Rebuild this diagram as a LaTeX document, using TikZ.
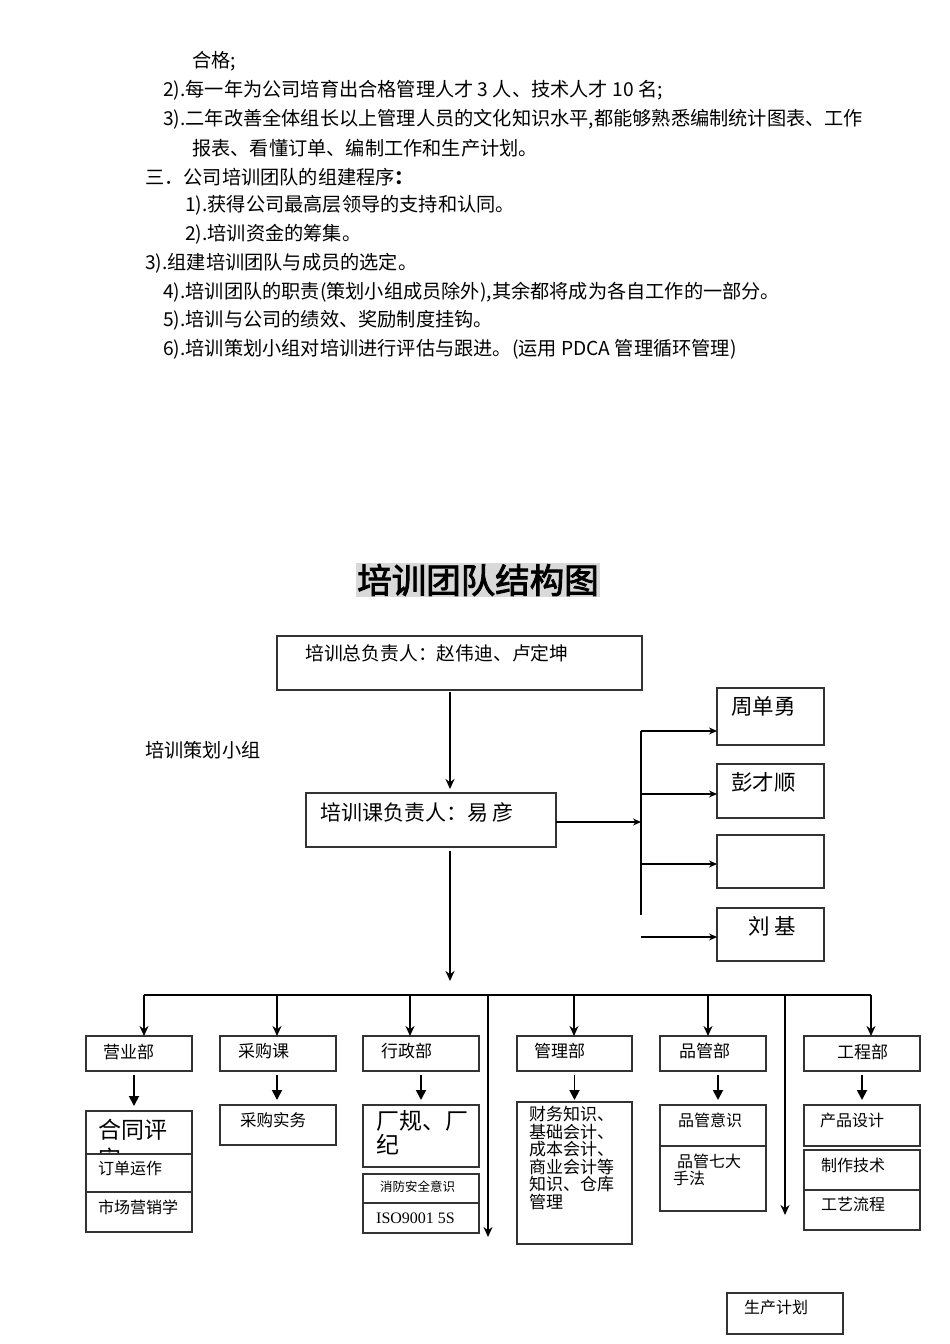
\documentclass[tikz,border=0pt]{standalone}
\usepackage{fontspec}
\setmainfont{Noto Sans CJK SC}
\newfontfamily\titlefont[FakeBold=2.5]{Noto Sans CJK SC}
\newfontfamily\tnr{Liberation Serif}
\usetikzlibrary{arrows.meta}

\tikzset{
  para/.style={inner sep=0pt, anchor=west, font=\fontsize{19.2}{29}\selectfont},
  txt/.style={inner sep=0pt, anchor=west},
  box/.style={draw=black!80, line width=1.4pt, inner sep=0pt, outer sep=0pt},
  arr/.style={line width=2pt, -{Stealth[length=10pt, width=9pt]}},
  harr/.style={line width=1.5pt, -{Stealth[length=8pt, width=7pt]}},
  tri/.style={line width=1.8pt, -{Triangle[length=10pt, width=10pt]}},
}

\begin{document}
\begin{tikzpicture}[x=1pt, y=-1pt]
            \useasboundingbox (0,0) rectangle (950,1344);

            % text above the chart
            \node[para] (l1) at (192, 61) {合格;};
            \node[para] (l2) at (163, 90) {2).每一年为公司培育出合格管理人才 3 人、技术人才 10 名;};
            \node[para] (l3) at (163, 119) {3).二年改善全体组长以上管理人员的文化知识水平,都能够熟悉编制统计图表、工作};
            \node[para] (l4) at (192, 148) {报表、看懂订单、编制工作和生产计划。};
            \node[para] (l5) at (145, 177) {三．公司培训团队的组建程序\textbf{：}};
            \node[para] (l6) at (185, 205) {1).获得公司最高层领导的支持和认同。};
            \node[para] (l7) at (185, 234) {2).培训资金的筹集。};
            \node[para] (l8) at (145, 263) {3).组建培训团队与成员的选定。};
            \node[para] (l9) at (163, 292) {4).培训团队的职责(策划小组成员除外),其余都将成为各自工作的一部分。};
            \node[para] (l10) at (163, 320) {5).培训与公司的绩效、奖励制度挂钩。};
            \node[para] (l11) at (163, 349) {6).培训策划小组对培训进行评估与跟进。(运用 PDCA 管理循环管理)};

            % title
            \node[fill=black!15, inner sep=1pt, font=\titlefont\fontsize{34.5}{35}\selectfont] (title) at (478, 580) {培训团队结构图};

            \node[para] (group) at (145, 750) {培训策划小组};

            % heads
            \node[box, minimum width=365pt, minimum height=54pt] (chief) at (459.5, 663) {};
            \node[txt, font=\fontsize{18.8}{20}\selectfont] (chief-t) at (305, 653) {培训总负责人：赵伟迪、卢定坤};
            \node[box, minimum width=250pt, minimum height=54pt] (mgr) at (431, 820) {};
            \node[txt, font=\fontsize{21}{22}\selectfont] (mgr-t) at (320, 812) {培训课负责人：易 彦};

            % planning group members
            \node[box, minimum width=107pt, minimum height=57pt] (zhou) at (770.5, 716.5) {};
            \node[txt, font=\fontsize{21.5}{22}\selectfont] (zhou-t) at (731, 706) {周单勇};
            \node[box, minimum width=107pt, minimum height=54pt] (peng) at (770.5, 791) {};
            \node[txt, font=\fontsize{21.5}{22}\selectfont] (peng-t) at (731, 782) {彭才顺};
            \node[box, minimum width=107pt, minimum height=53pt] (blank) at (770.5, 861.5) {};
            \node[box, minimum width=107pt, minimum height=53pt] (liu) at (770.5, 934.5) {};
            \node[txt, font=\fontsize{21.5}{22}\selectfont] (liu-t) at (748, 926) {刘 基};

            \coordinate (jm) at (641, 822);
            \coordinate (vt) at (641, 731);
            \coordinate (j2) at (641, 794);
            \coordinate (j3) at (641, 864);
            \coordinate (vb) at (641, 915);
            \coordinate (j4) at (641, 937);

            \draw[arr, shorten <=2pt, shorten >=4pt] ([xshift=-9.5pt]chief.south) -- ([xshift=-9.5pt]chief.south |- mgr.north);
            \draw[harr] (mgr.east |- jm) -- (jm);
            \draw[line width=1.5pt] (vt) -- (vb);
            \draw[harr] (vt) -- (vt -| zhou.west);
            \draw[harr] (j2) -- (j2 -| peng.west);
            \draw[harr] (j3) -- (j3 -| blank.west);
            \draw[harr] (j4) -- (j4 -| liu.west);

            % departments
            \node[box, minimum width=106pt, minimum height=35pt] (yy) at (139, 1053.5) {};
            \node[txt, font=\fontsize{17}{18}\selectfont] (yy-t) at (103, 1052) {营业部};
            \node[box, minimum width=116pt, minimum height=35pt] (cg) at (278, 1053.5) {};
            \node[txt, font=\fontsize{17}{18}\selectfont] (cg-t) at (238, 1051) {采购课};
            \node[box, minimum width=116pt, minimum height=35pt] (xz) at (421, 1053.5) {};
            \node[txt, font=\fontsize{17}{18}\selectfont] (xz-t) at (381, 1051) {行政部};
            \node[box, minimum width=115pt, minimum height=35pt] (gl) at (574.5, 1053.5) {};
            \node[txt, font=\fontsize{17}{18}\selectfont] (gl-t) at (534, 1051) {管理部};
            \node[box, minimum width=106pt, minimum height=35pt] (pg) at (713, 1053.5) {};
            \node[txt, font=\fontsize{17}{18}\selectfont] (pg-t) at (679, 1051) {品管部};
            \node[box, minimum width=116pt, minimum height=35pt] (gc) at (862, 1053.5) {};
            \node[txt, font=\fontsize{17}{18}\selectfont] (gc-t) at (837, 1052) {工程部};

            \coordinate (busin) at (450, 981);
            \coordinate (b1) at (144, 995);
            \coordinate (b2) at (277, 995);
            \coordinate (b3) at (410, 995);
            \coordinate (b4) at (488, 995);
            \coordinate (b5) at (574, 995);
            \coordinate (b6) at (708, 995);
            \coordinate (b7) at (785, 995);
            \coordinate (b8) at (871, 995);
            \coordinate (e4) at (488, 1237);
            \coordinate (e7) at (785, 1215);

            \draw[arr, shorten <=4pt] ([xshift=19pt]mgr.south) -- (busin);
            \draw[line width=2pt] (b1) -- (b8);
            \draw[arr] (b1) -- (b1 |- yy.north);
            \draw[arr] (b2) -- (b2 |- cg.north);
            \draw[arr] (b3) -- (b3 |- xz.north);
            \draw[arr] (b5) -- (b5 |- gl.north);
            \draw[arr] (b6) -- (b6 |- pg.north);
            \draw[arr] (b8) -- (b8 |- gc.north);
            \draw[arr, line width=1.8pt] (b4) -- (e4);
            \draw[arr, line width=1.8pt] (b7) -- (e7);

            % courses
            \node[box, minimum width=106pt, minimum height=43pt] (ht) at (139, 1132.5) {};
            \begin{scope}
              \clip (86, 1111) rectangle (192, 1154);
              \node[inner sep=0pt, anchor=north west, align=left, font=\fontsize{23}{29}\selectfont] (ht-t) at (98, 1119) {合同评\\审};
            \end{scope}
            \node[box, minimum width=106pt, minimum height=38pt] (dd) at (139, 1173) {};
            \node[txt, font=\fontsize{16}{17}\selectfont] (dd-t) at (98, 1168) {订单运作};
            \node[box, minimum width=106pt, minimum height=40pt] (sc) at (139, 1212) {};
            \node[txt, font=\fontsize{16}{17}\selectfont] (sc-t) at (98, 1207) {市场营销学};

            \node[box, minimum width=116pt, minimum height=40pt] (cs) at (278, 1125) {};
            \node[txt, font=\fontsize{16.5}{17}\selectfont] (cs-t) at (240, 1120) {采购实务};

            \node[box, minimum width=116pt, minimum height=62pt] (cj) at (421, 1136) {};
            \begin{scope}
              \clip (363, 1105) rectangle (479, 1167);
              \node[inner sep=0pt, anchor=north west, align=left, font=\fontsize{23}{24}\selectfont] (cj-t) at (376, 1110) {厂规、厂\\纪};
            \end{scope}
            \node[box, minimum width=116pt, minimum height=29pt] (xf) at (421, 1188.5) {};
            \node[txt, font=\fontsize{12.5}{13}\selectfont] (xf-t) at (380, 1187) {消防安全意识};
            \node[box, minimum width=116pt, minimum height=30pt] (iso) at (421, 1218) {};
            \node[txt, font=\tnr\fontsize{16}{17}\selectfont] (iso-t) at (376, 1218) {ISO9001 5S};

            \node[box, minimum width=115pt, minimum height=142pt] (cw) at (574.5, 1173) {};
            \node[inner sep=0pt, anchor=north west, align=left, font=\fontsize{17}{17.6}\selectfont] (cw-t) at (529, 1106) {财务知识、\\基础会计、\\成本会计、\\商业会计等\\知识、仓库\\管理};

            \node[box, minimum width=106pt, minimum height=41pt] (py) at (713, 1125.5) {};
            \node[txt, font=\fontsize{16}{17}\selectfont] (py-t) at (678, 1120) {品管意识};
            \node[box, minimum width=106pt, minimum height=65pt] (qd) at (713, 1178.5) {};
            \node[inner sep=0pt, anchor=north west, align=left, font=\fontsize{16}{16.5}\selectfont] (qd-t) at (673, 1154) {\hspace*{4pt}品管七大\\手法};

            \node[box, minimum width=116pt, minimum height=41pt] (cp) at (862, 1125.5) {};
            \node[txt, font=\fontsize{16}{17}\selectfont] (cp-t) at (820, 1120) {产品设计};
            \node[box, minimum width=116pt, minimum height=40pt] (zz) at (862, 1170) {};
            \node[txt, font=\fontsize{16}{17}\selectfont] (zz-t) at (821, 1165) {制作技术};
            \node[box, minimum width=116pt, minimum height=40pt] (gy) at (862, 1210) {};
            \node[txt, font=\fontsize{16}{17}\selectfont] (gy-t) at (821, 1204) {工艺流程};

            \node[box, minimum width=116pt, minimum height=41pt] (sj) at (785, 1313.5) {};
            \node[txt, font=\fontsize{16}{17}\selectfont] (sj-t) at (744, 1307) {生产计划};

            \draw[tri, shorten <=4pt, shorten >=5pt] ([xshift=-5pt]yy.south) -- ([xshift=-5pt]ht.north);
            \draw[tri, shorten <=4pt, shorten >=5pt] ([xshift=-1pt]cg.south) -- ([xshift=-1pt]cs.north);
            \draw[tri, shorten <=4pt, shorten >=5pt] (xz.south) -- (cj.north);
            \draw[tri, shorten <=4pt, shorten >=2pt] (gl.south) -- (cw.north);
            \draw[tri, shorten <=4pt, shorten >=5pt] ([xshift=5pt]pg.south) -- ([xshift=5pt]py.north);
            \draw[tri, shorten <=4pt, shorten >=5pt] (gc.south) -- (cp.north);
        \end{tikzpicture}
\end{document}
